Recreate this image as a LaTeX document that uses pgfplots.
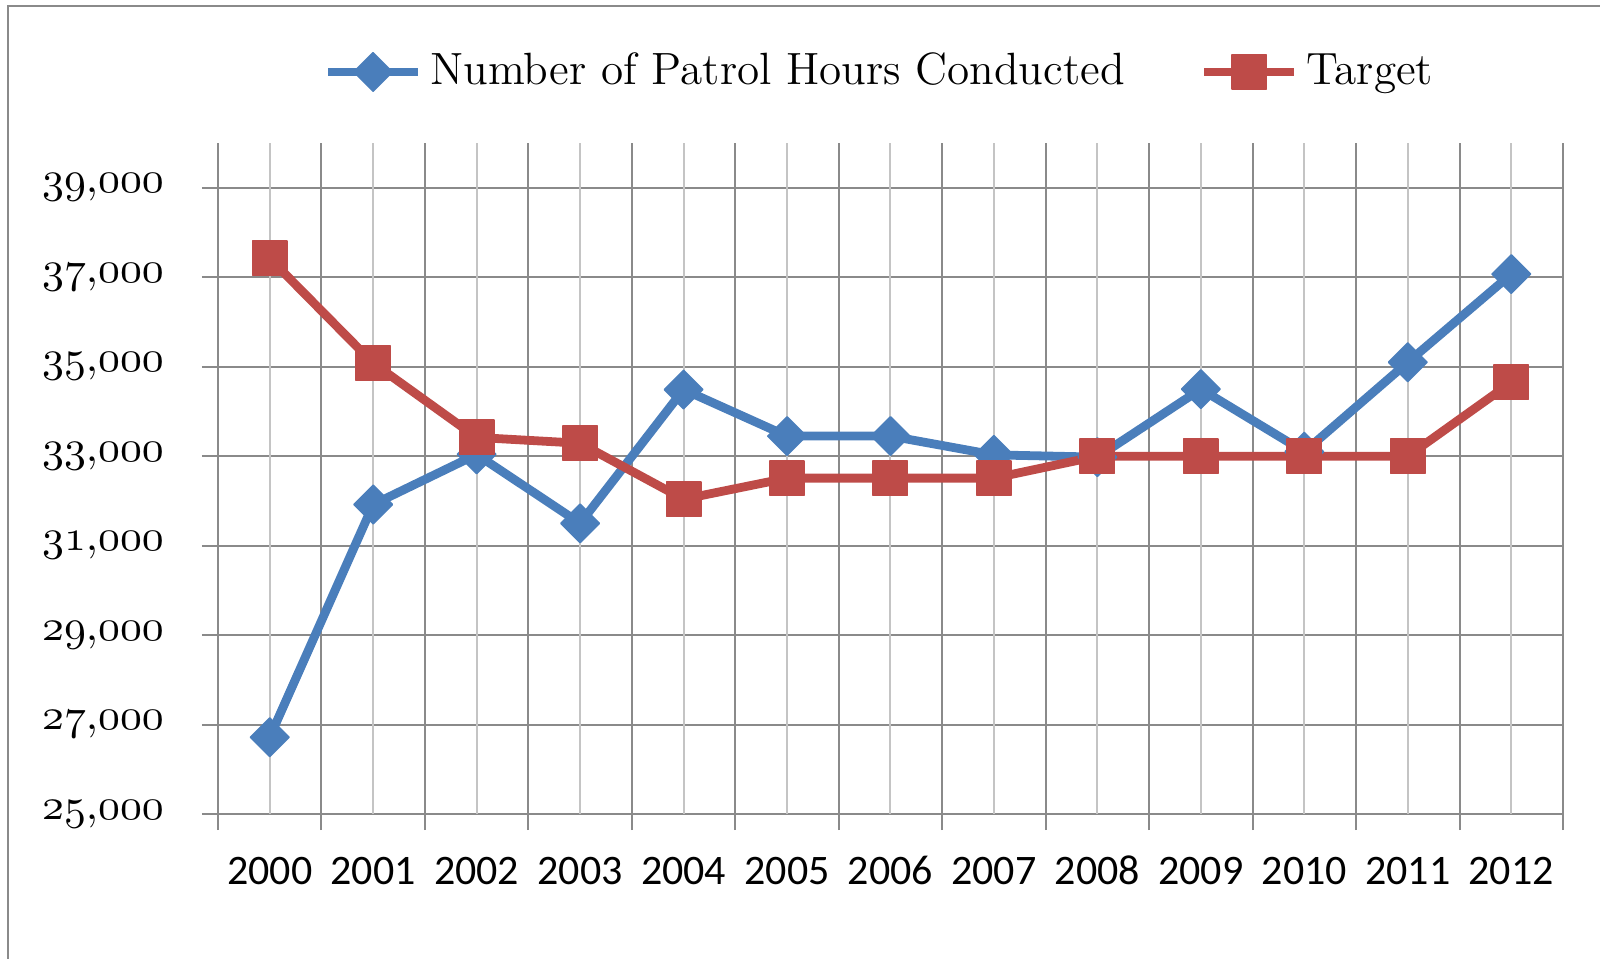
\documentclass[border=0pt]{standalone}
\usepackage{pgfplots}
\pgfplotsset{compat=1.18}
\usepackage{fontspec}
\newfontfamily\xfont{Carlito}
\newcommand\yl[1]{\mbox{\usefont{OML}{cmm}{m}{it}#1\char"3B 000}}
\definecolor{myblue}{HTML}{4A7EBB}
\definecolor{myred}{HTML}{BE4B48}
\definecolor{gridgray}{HTML}{8A8A8A}
\definecolor{lightgrid}{HTML}{C4C4C4}
\begin{document}
\begin{tikzpicture}
\useasboundingbox (0,0) rectangle (400pt,-239.75pt);
\draw[gridgray, line width=0.6pt] (2pt,-239.75pt) -- (2pt,-1.5pt) -- (400pt,-1.5pt);
\begin{axis}[
  at={(54.5pt,-203.55pt)}, anchor=south west,
  scale only axis, width=336.25pt, height=167.8pt,
  xmin=-0.5, xmax=12.5, ymin=25000, ymax=40000,
  scaled y ticks=false,
  axis x line*=bottom, axis y line*=left,
  axis line style={draw=gridgray, line width=0.5pt, -},
  tick align=outside,
  major tick length=4pt,
  tick style={draw=gridgray, line width=0.5pt},
  xtick={-0.5,0.5,1.5,2.5,3.5,4.5,5.5,6.5,7.5,8.5,9.5,10.5,11.5,12.5},
  xticklabels={},
  xmajorgrids, ymajorgrids,
  grid style={draw=gridgray, line width=0.5pt},
  extra x ticks={0,1,2,3,4,5,6,7,8,9,10,11,12},
  extra x tick labels={2000,2001,2002,2003,2004,2005,2006,2007,2008,2009,2010,2011,2012},
  extra x tick style={major tick length=0pt, grid=major,
     major grid style={draw=lightgrid, line width=0.5pt},
     xticklabel style={font=\xfont\fontsize{10.5}{12}\selectfont, anchor=north, text height=7pt, text depth=0pt, yshift=-7pt}},
  ytick={25000,27000,29000,31000,33000,35000,37000,39000},
  yticklabels={\yl{25},\yl{27},\yl{29},\yl{31},\yl{33},\yl{35},\yl{37},\yl{39}},
  yticklabel style={font=\fontsize{11}{13}\selectfont, xshift=-6pt},
  legend columns=2,
  legend style={at={(0.494,1.1058)}, anchor=center, draw=none, fill=none,
     font=\fontsize{11.3}{13}\selectfont,
     /tikz/every even column/.append style={column sep=16.75pt}},
  legend image code/.code={\draw[mark repeat=2,mark phase=2,#1] plot coordinates {(0pt,0pt) (11.25pt,0pt) (22.5pt,0pt)};},
]
\addplot[color=myblue, line width=2.2pt, line join=round, mark=square*, mark size=3.4pt, mark options={rotate=45, solid, fill=myblue, draw=myblue, line width=0.4pt}]
 coordinates {(0,26720) (1,31920) (2,33040) (3,31500) (4,34490) (5,33450) (6,33450) (7,33030) (8,32980) (9,34500) (10,33100) (11,35100) (12,37070)};
\addlegendentry{Number of Patrol Hours Conducted}
\addplot[color=myred, line width=2.2pt, line join=round, mark=square*, mark size=4.3pt, mark options={solid, fill=myred, draw=myred, line width=0.4pt}]
 coordinates {(0,37420) (1,35080) (2,33420) (3,33290) (4,32040) (5,32510) (6,32510) (7,32510) (8,33000) (9,33000) (10,33000) (11,33000) (12,34650)};
\addlegendentry{Target}
\end{axis}
\end{tikzpicture}
\end{document}
